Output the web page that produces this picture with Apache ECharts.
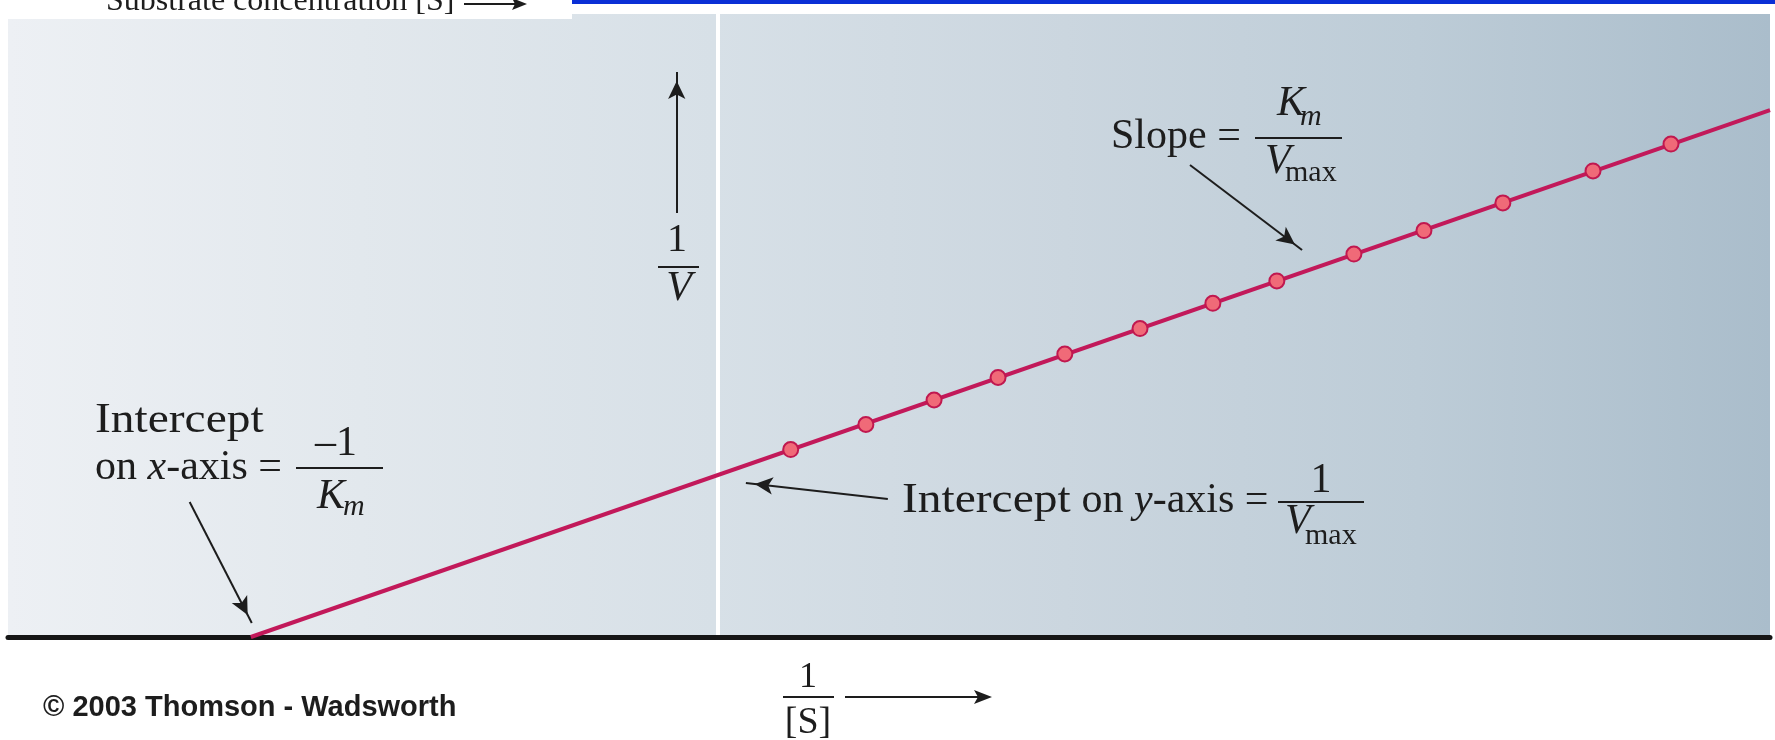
<!DOCTYPE html>
<html>
<head>
<meta charset="utf-8">
<title>Lineweaver-Burk plot</title>
<script src="https://cdn.jsdelivr.net/npm/echarts/dist/echarts.min.js"></script>
<style>
html,body{margin:0;padding:0;background:#fff;}
#main{width:1775px;height:740px;}
</style>
</head>
<body>
<div id="main"></div>
<script>
// measured points: 1/[S] and 1/V
var invS = [0.156, 0.317, 0.463, 0.600, 0.743, 0.904, 1.060, 1.197, 1.362, 1.512, 1.681, 1.874, 2.041];
var invV = [1.157, 1.312, 1.463, 1.602, 1.747, 1.904, 2.060, 2.198, 2.364, 2.509, 2.680, 2.877, 3.043];
// fitted line, from the x intercept (-1/Km) to the right edge
var fitX = [-1, 2.253];
var fitY = [0, 3.253];
// visible range of the axes
var xRange = [-1.52, 2.253];
var yRange = [0, 3.846];
// annotation arrows, tail -> tip  [x1, y1, x2, y2]
var arrowUp = [-0.088, 2.617, -0.088, 3.488];
var arrowSlope = [1.011, 2.914, 1.251, 2.389];
var arrowYint = [0.364, 0.852, 0.060, 0.951];
var arrowXint = [-1.131, 0.833, -0.998, 0.086];

var ink = '#1d1d1d';
var serif = '"Liberation Serif", "Times New Roman", serif';

var points = [];
for (var i = 0; i < invS.length; i++) {
	points.push([invS[i], invV[i]]);
}
var fit = [];
for (var j = 0; j < fitX.length; j++) {
	fit.push([fitX[j], fitY[j]]);
}

function arrow(a) {
	return [{ coord: [a[0], a[1]] }, { coord: [a[2], a[3]] }];
}

// text placed by its baseline (sx = horizontal stretch)
function txt(x, base, s, size, o) {
	o = o || {};
	return {
		type: 'text', z: 50, silent: true,
		x: x, y: base - 0.32 * size, scaleX: o.sx || 1,
		style: {
			x: 0, y: 0, text: s,
			fontSize: size, fontFamily: o.family || serif,
			fontStyle: o.italic ? 'italic' : 'normal',
			fontWeight: o.bold ? 'bold' : 'normal',
			fill: ink, align: o.align || 'left', verticalAlign: 'middle',
			rich: o.rich
		}
	};
}
function bar(x1, x2, y) {
	return { type: 'line', z: 50, silent: true, shape: { x1: x1, y1: y, x2: x2, y2: y }, style: { stroke: ink, lineWidth: 2 } };
}
var richAxis = {
	r: { fontSize: 42, fontFamily: serif },
	i: { fontSize: 42, fontFamily: serif, fontStyle: 'italic' }
};

var myChart = echarts.init(document.getElementById('main'));
var option = {
	animation: false,
	backgroundColor: '#ffffff',
	grid: {
		left: 8, right: 5, top: 14, bottom: 103,
		show: true, borderWidth: 0,
		backgroundColor: new echarts.graphic.LinearGradient(0, 0, 1, 0, [
			{ offset: 0, color: '#edf0f4' },
			{ offset: 0.2, color: '#e2e8ed' },
			{ offset: 0.4, color: '#d7e0e7' },
			{ offset: 0.6, color: '#cbd6df' },
			{ offset: 0.8, color: '#bdccd7' },
			{ offset: 1, color: '#aabdcb' }
		])
	},
	xAxis: {
		type: 'value', min: xRange[0], max: xRange[1],
		axisLine: { onZero: false, lineStyle: { color: '#161616', width: 5 } },
		axisTick: { show: false }, axisLabel: { show: false }, splitLine: { show: false }
	},
	yAxis: {
		type: 'value', min: yRange[0], max: yRange[1],
		axisLine: { show: true, onZero: true, lineStyle: { color: '#ffffff', width: 4 } },
		axisTick: { show: false }, axisLabel: { show: false }, splitLine: { show: false }
	},
	series: [
		{
			type: 'line', data: fit, symbol: 'none', z: 2,
			lineStyle: { color: '#c2195a', width: 4 },
			markLine: {
				silent: true,
				symbol: ['none', 'arrow'],
				symbolSize: [13, 18],
				symbolOffset: [0, [0, 9]],
				label: { show: false },
				lineStyle: { color: ink, width: 2, type: 'solid' },
				data: [arrow(arrowUp), arrow(arrowSlope), arrow(arrowYint), arrow(arrowXint)]
			}
		},
		{
			type: 'scatter', data: points, symbol: 'circle', symbolSize: 15, z: 3,
			itemStyle: { color: '#f06a78', borderColor: '#c0184f', borderWidth: 2, opacity: 1 }
		}
	],
	graphic: [
		// clipped caption above the panel
		{ type: 'rect', z: 40, silent: true, shape: { x: 0, y: 0, width: 572, height: 19 }, style: { fill: '#ffffff' } },
		{ type: 'rect', z: 40, silent: true, shape: { x: 572, y: 0, width: 1203, height: 4 }, style: { fill: '#0a2fd6' } },
		txt(106, 12, 'Substrate concentration [S]', 32),
		{ type: 'line', z: 50, silent: true, shape: { x1: 464, y1: 4, x2: 515, y2: 4 }, style: { stroke: ink, lineWidth: 2 } },
		{ type: 'polygon', z: 50, silent: true, shape: { points: [[527, 4], [512, -2], [515, 4], [512, 10]] }, style: { fill: ink } },

		// slope label
		txt(1111, 150, 'Slope =', 42),
		txt(1277, 117, 'K', 42, { italic: true }),
		txt(1300, 127, 'm', 30, { italic: true }),
		bar(1255, 1342, 138),
		txt(1265, 175, 'V', 42, { italic: true }),
		txt(1285, 183, 'max', 30),

		// y intercept label
		txt(902, 514, 'Intercept', 42, { sx: 1.13 }),
		txt(1071, 514, '{r| on }{i|y}{r|-axis =}', 42, { rich: richAxis }),
		txt(1321, 494, '1', 42, { align: 'center' }),
		bar(1278, 1364, 502),
		txt(1285, 535, 'V', 42, { italic: true }),
		txt(1305, 546, 'max', 30),

		// x intercept label
		txt(95, 434, 'Intercept', 42, { sx: 1.13 }),
		txt(95, 481, '{r|on }{i|x}{r|-axis =}', 42, { rich: richAxis }),
		txt(336, 457, '\u20131', 42, { align: 'center' }),
		bar(296, 383, 468),
		txt(317, 510, 'K', 42, { italic: true }),
		txt(343, 517, 'm', 30, { italic: true }),

		// axis names
		txt(677, 253, '1', 40, { align: 'center' }),
		bar(658, 699, 267),
		txt(679, 302, 'V', 42, { italic: true, align: 'center' }),

		txt(808, 689, '1', 36, { align: 'center' }),
		bar(783, 834, 697),
		txt(808, 735, '[S]', 38, { align: 'center' }),
		{ type: 'line', z: 50, silent: true, shape: { x1: 845, y1: 697, x2: 978, y2: 697 }, style: { stroke: ink, lineWidth: 2 } },
		{ type: 'polygon', z: 50, silent: true, shape: { points: [[992, 697], [974, 690], [978, 697], [974, 704]] }, style: { fill: ink } },

		txt(43, 717, '\u00a9 2003 Thomson - Wadsworth', 29, { bold: true, family: '"Liberation Sans", Arial, sans-serif' })
	]
};
myChart.setOption(option);
</script>
</body>
</html>
